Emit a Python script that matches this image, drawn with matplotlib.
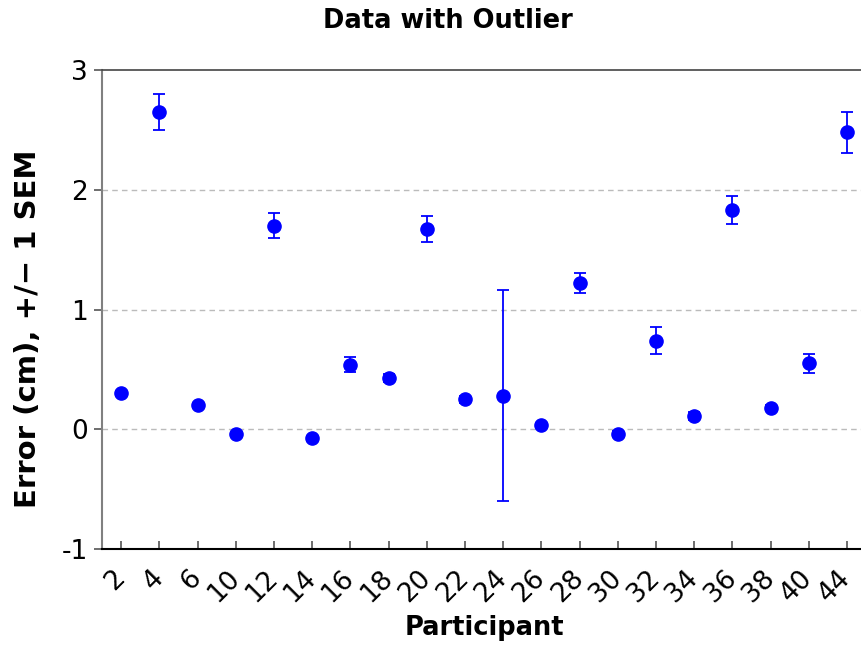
import numpy as np
import matplotlib
matplotlib.use('Agg')
import matplotlib.pyplot as plt

# mean error per participant, with standard error of the mean
participants = ['2', '4', '6', '10', '12', '14', '16', '18', '20', '22',
                '24', '26', '28', '30', '32', '34', '36', '38', '40', '44']
mean_error = [0.30, 2.65, 0.20, -0.04, 1.70, -0.075, 0.54, 0.43, 1.67, 0.25,
              0.28, 0.035, 1.22, -0.036, 0.74, 0.11, 1.83, 0.18, 0.55, 2.48]
sem = [0.02, 0.15, 0.02, 0.02, 0.105, 0.02, 0.06, 0.035, 0.11, 0.03,
       0.88, 0.02, 0.083, 0.02, 0.11, 0.03, 0.115, 0.02, 0.08, 0.17]

fig = plt.figure(figsize=(8.61, 6.45), dpi=100)
ax = fig.add_axes([102 / 861, 96 / 645, 764 / 861, 479 / 645])

x = np.arange(len(participants))
ax.errorbar(x, mean_error, yerr=sem, fmt='o', color='#0000ff', ecolor='#0000ff',
            markersize=9.5, elinewidth=1.3, capsize=4, capthick=1.3, zorder=3)

ax.set_xlim(-0.5, len(participants) - 0.5)
ax.set_ylim(-1, 3)
ax.set_yticks([-1, 0, 1, 2, 3])
ax.set_yticklabels(['-1', '0', '1', '2', '3'])
ax.set_xticks(x)
ax.set_xticklabels(participants, rotation=45, ha='right', va='center',
                   rotation_mode='anchor')

for g in [0, 1, 2]:
    ax.axhline(g, color='#bbbbbb', linestyle=(0, (4, 3)), linewidth=1, zorder=1)

ax.spines['right'].set_visible(False)
ax.spines['left'].set_color('#808080')
ax.spines['left'].set_linewidth(1.5)
ax.spines['top'].set_color('#444444')
ax.spines['top'].set_linewidth(1.2)
ax.spines['bottom'].set_color('black')
ax.spines['bottom'].set_linewidth(1.5)

ax.tick_params(axis='x', direction='in', length=6, width=1.2, color='#555555',
               labelsize=19, pad=18)
ax.tick_params(axis='y', direction='out', length=6, width=1.2, color='#555555',
               labelsize=19, pad=4)

fig.text(448 / 861, 1 - 21 / 645, 'Data with Outlier', fontsize=18.5,
         fontweight='bold', ha='center', va='center')
ax.set_xlabel('Participant', fontsize=18.5, fontweight='bold', va='center')
ax.xaxis.set_label_coords(0.5, -0.165)
ax.set_ylabel('Error (cm), +/\u2212 1 SEM', fontsize=21, fontweight='bold', va='center')
ax.yaxis.set_label_coords(-0.097, 0.459)

fig.savefig('out.png', dpi=100)
